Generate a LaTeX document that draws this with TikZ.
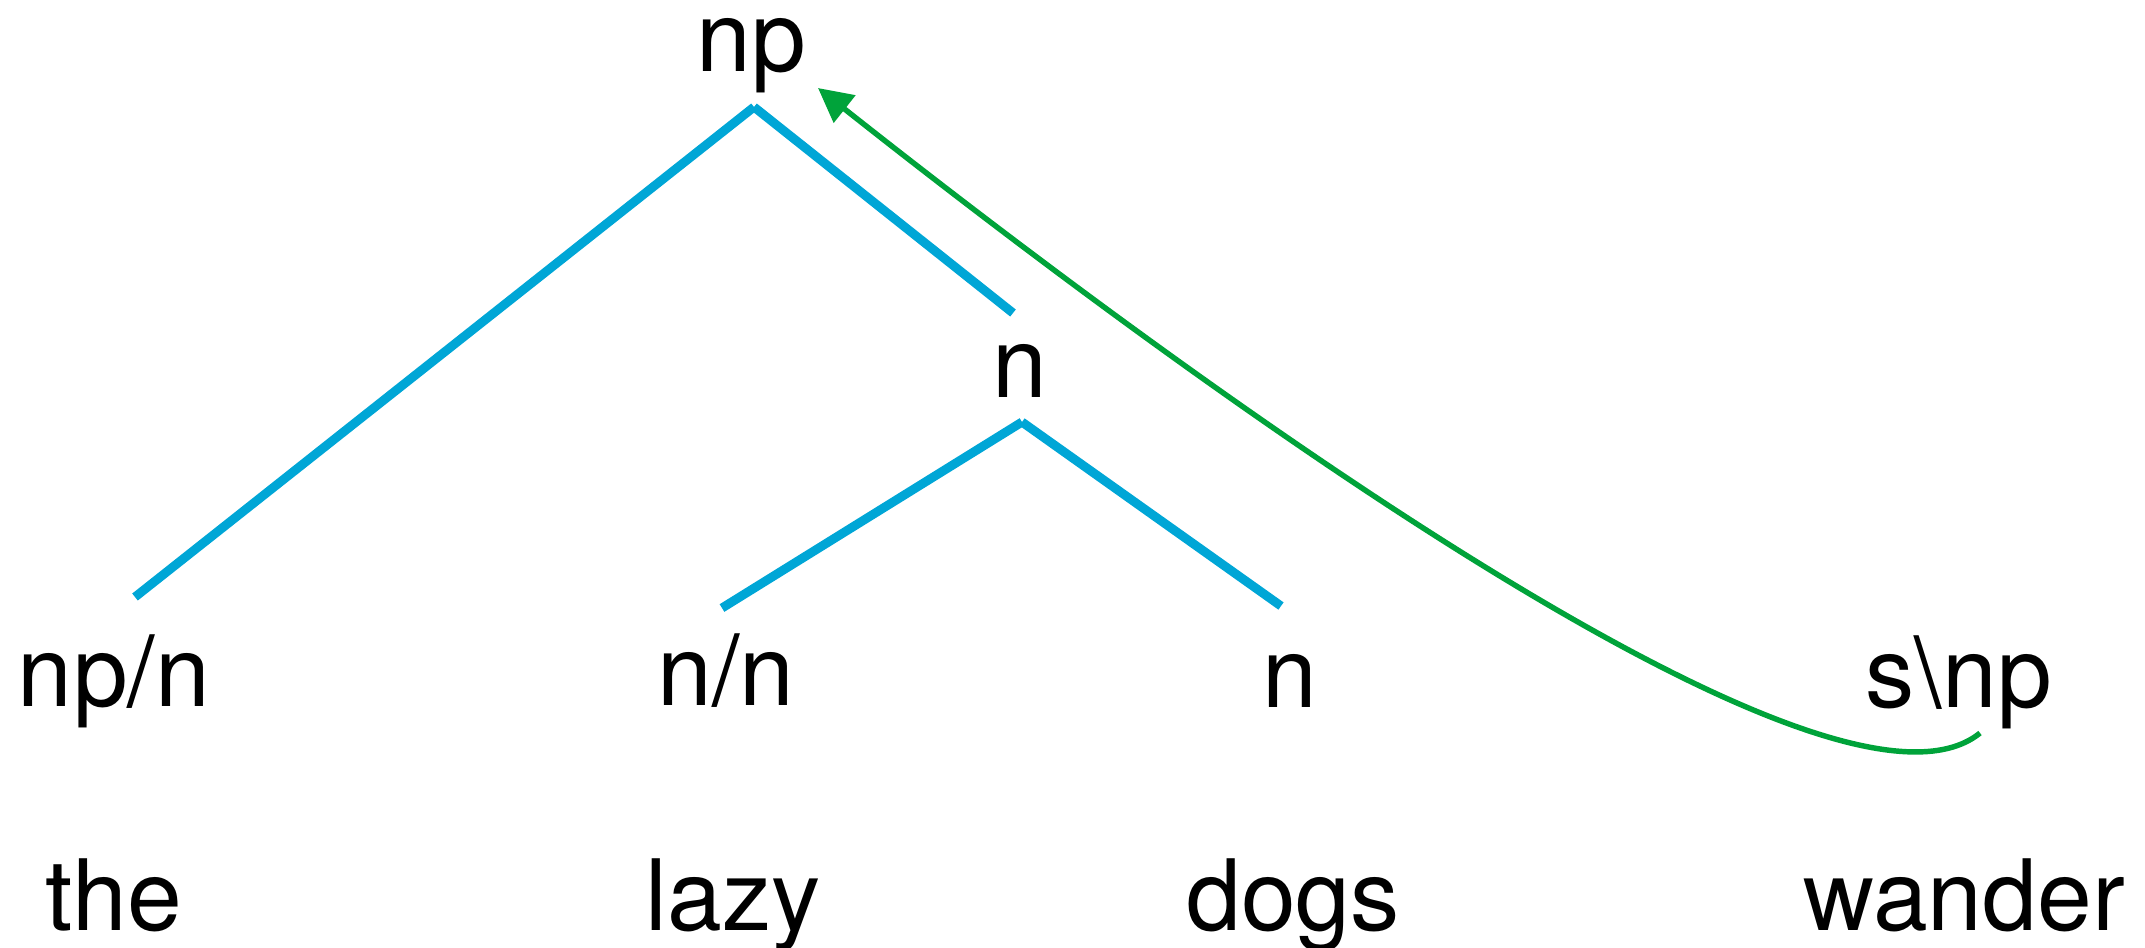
\documentclass[tikz,border=0pt]{standalone}
\usepackage{fontspec}
\setmainfont{TeX Gyre Heros}
\usetikzlibrary{arrows.meta}
\definecolor{branchblue}{HTML}{00A6D6}
\definecolor{movegreen}{HTML}{00A33A}

\begin{document}
\begin{tikzpicture}[
  x=0.01cm, y=-0.01cm,
  cat/.style={font=\fontsize{28}{34}\selectfont, inner sep=0pt, anchor=base},
  word/.style={cat},
  branch/.style={draw=branchblue, line width=2.55pt},
  move/.style={draw=movegreen, line width=1.55pt,
               -{Triangle[length=3.4mm, width=3.4mm]}},
]
\useasboundingbox (0,0) rectangle (2145,947);

% ─── categories ───────────────────────────────────────────────
\node[cat] (np)   at (751,71)   {np};
\node[cat] (n)    at (1020,397) {n};
\node[cat] (npn)  at (114,706)  {np/n};
\node[cat] (nn)   at (726,705)  {n/n};
\node[cat] (nleaf) at (1290,707) {n};
\node[cat] (snp)  at (1959,707) {s\textbackslash np};

% ─── words ────────────────────────────────────────────────────
\node[word] (the)    at (114,930)  {the};
\node[word] (lazy)   at (733,930)  {lazy};
\node[word] (dogs)   at (1293,930) {dogs};
\node[word] (wander) at (1964,930) {wander};

% ─── joints and branch ends ───────────────────────────────────
\coordinate (npJ)    at (754,107);
\coordinate (nJ)     at (1022,422);
\coordinate (npnT)   at (135,597);
\coordinate (nT)     at (1013,313);
\coordinate (nnT)    at (722,608);
\coordinate (nleafT) at (1281,606);
\coordinate (snpB)   at (1980,733);
\coordinate (npA)    at (818,88);

\draw[branch] (npJ) -- (npnT);
\draw[branch] (npJ) -- (nT);
\draw[branch] (nJ) -- (nnT);
\draw[branch] (nJ) -- (nleafT);

% ─── movement arrow ───────────────────────────────────────────
\draw[move] (snpB) .. controls (1836,850) and (1210,398) .. (npA);

\end{tikzpicture}
\end{document}
